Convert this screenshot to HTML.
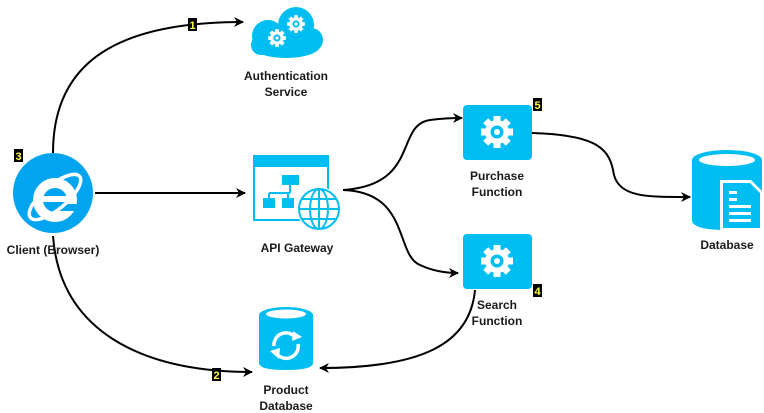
<!DOCTYPE html>
<html><head><meta charset="utf-8"><style>
html,body{margin:0;padding:0;background:#fff;}
svg{display:block;}
text{font-family:"Liberation Sans",Arial,sans-serif;font-weight:bold;font-size:12px;fill:#1a1a1a;}
.n{font-size:11px;fill:#ffff44;}
</style></head><body>
<svg width="764" height="413" viewBox="0 0 764 413" xmlns="http://www.w3.org/2000/svg">
<defs>
<marker id="a" markerWidth="10" markerHeight="10" refX="9" refY="5" orient="auto" markerUnits="userSpaceOnUse">
<path d="M0,0 L10,5 L0,10 L3,5 z" fill="#000"/>
</marker>
<g id="gear">
<circle r="12" fill="#fff"/>
<rect x="-3.5" y="-16" width="7" height="32" fill="#fff"/>
<rect x="-3.5" y="-16" width="7" height="32" fill="#fff" transform="rotate(45)"/>
<rect x="-3.5" y="-16" width="7" height="32" fill="#fff" transform="rotate(90)"/>
<rect x="-3.5" y="-16" width="7" height="32" fill="#fff" transform="rotate(135)"/>
<circle r="6.5" fill="#00bef2"/>
<circle r="3" fill="#fff"/>
</g>
</defs>
<g fill="none" stroke="#000" stroke-width="2">
<path d="M53,153 C53,60 120,22 243,22" marker-end="url(#a)"/>
<path d="M95,193 L245,193" marker-end="url(#a)"/>
<path d="M53,236 C60,330 140,372 252,372" marker-end="url(#a)"/>
<path d="M343,190 C420,185 395,125 430,120 C445,118 455,118 462,118" marker-end="url(#a)"/>
<path d="M343,190 C410,192 395,255 420,265 C435,272 448,273 458,273" marker-end="url(#a)"/>
<path d="M532,133 C600,135 610,150 614,175 C620,198 650,197 690,197" marker-end="url(#a)"/>
<path d="M475,290 C470,345 420,368 320,368" marker-end="url(#a)"/>
</g>
<!-- client IE -->
<circle cx="53" cy="193" r="40" fill="#00a4ef"/>
<circle cx="55" cy="200" r="17" fill="none" stroke="#fff" stroke-width="10"/>
<rect x="40" y="196" width="32" height="6" fill="#fff"/>
<rect x="58" y="204" width="20" height="7" fill="#00a4ef"/>
<ellipse cx="55" cy="197" rx="32" ry="12" fill="none" stroke="#fff" stroke-width="3.5" transform="rotate(-40 55 197)"/>
<rect x="14" y="149" width="9" height="13" fill="#000"/><text x="18.5" y="160" class="n" text-anchor="middle">3</text>
<text x="53" y="254" text-anchor="middle">Client (Browser)</text>
<!-- auth cloud -->
<g fill="#00bef2">
<circle cx="268" cy="36" r="16"/><circle cx="296" cy="25" r="18"/><circle cx="311" cy="40" r="12"/>
<circle cx="261" cy="45" r="10"/>
<ellipse cx="286" cy="46" rx="34" ry="12"/>
</g>
<g transform="translate(277,38) scale(0.55)"><use href="#gear"/></g>
<g transform="translate(296,24) scale(0.55)"><use href="#gear"/></g>
<text x="286" y="80" text-anchor="middle">Authentication</text>
<text x="286" y="96" text-anchor="middle">Service</text>
<rect x="188" y="18" width="9" height="13" fill="#000"/><text x="192.5" y="29" class="n" text-anchor="middle">1</text>
<!-- API gateway -->
<rect x="254" y="156" width="74" height="64" fill="#fff" stroke="#00bef2" stroke-width="2"/>
<rect x="254" y="156" width="74" height="11" fill="#00bef2"/>
<rect x="282" y="175" width="17" height="10" fill="#00bef2"/>
<rect x="263" y="198" width="12" height="10" fill="#00bef2"/>
<rect x="282" y="198" width="12" height="10" fill="#00bef2"/>
<path d="M290,185 V193 M269,193 H290 M269,193 V198 M288,193 V198" stroke="#00bef2" stroke-width="2" fill="none"/>
<circle cx="319" cy="209" r="22" fill="#fff"/>
<g fill="none" stroke="#00bef2" stroke-width="2">
<circle cx="319" cy="209" r="20"/><ellipse cx="319" cy="209" rx="9" ry="20"/>
<path d="M299,209 H339 M302,199 H336 M302,219 H336 M319,189 V229"/>
</g>
<text x="297" y="252" text-anchor="middle">API Gateway</text>
<!-- purchase -->
<rect x="463" y="105" width="69" height="55" rx="4" fill="#00bef2"/>
<g transform="translate(497,132)"><use href="#gear"/></g>
<rect x="533" y="98" width="9" height="13" fill="#000"/><text x="537.5" y="109" class="n" text-anchor="middle">5</text>
<text x="497" y="180" text-anchor="middle">Purchase</text>
<text x="497" y="196" text-anchor="middle">Function</text>
<!-- search -->
<rect x="463" y="234" width="69" height="55" rx="4" fill="#00bef2"/>
<g transform="translate(497,261)"><use href="#gear"/></g>
<rect x="533" y="284" width="9" height="13" fill="#000"/><text x="537.5" y="295" class="n" text-anchor="middle">4</text>
<text x="497" y="309" text-anchor="middle">Search</text>
<text x="497" y="325" text-anchor="middle">Function</text>
<!-- database -->
<path d="M692,160 V220 Q692,230 727,230 Q762,230 762,220 V160 Z" fill="#00bef2"/>
<ellipse cx="727" cy="160" rx="35" ry="10" fill="#00bef2"/>
<ellipse cx="727" cy="160" rx="28" ry="6" fill="#fff"/>
<path d="M720,180 H751 L763,192 V231 H720 Z" fill="#fff"/>
<path d="M723,183 H750 L760,193 V228 H723 Z" fill="#00bef2"/>
<g fill="#fff"><rect x="729" y="191" width="8" height="3"/><rect x="729" y="198" width="8" height="3"/><rect x="729" y="205" width="22" height="3"/><rect x="729" y="212" width="22" height="3"/><rect x="729" y="219" width="22" height="3"/></g>
<text x="727" y="249" text-anchor="middle">Database</text>
<!-- product db -->
<path d="M259,315 V363 Q259,370 286,370 Q313,370 313,363 V315 Z" fill="#00bef2"/>
<ellipse cx="286" cy="315" rx="27" ry="8" fill="#00bef2"/>
<ellipse cx="286" cy="314" rx="20" ry="4.5" fill="#fff"/>
<g fill="none" stroke="#fff" stroke-width="3.5">
<path d="M274,346 A12,12 0 0 1 295,337"/><path d="M298,344 A12,12 0 0 1 277,354"/>
</g>
<path d="M293,331 L302,337 L292,341 Z" fill="#fff"/>
<path d="M279,359 L270,351 L280,348 Z" fill="#fff"/>
<rect x="212" y="368" width="9" height="13" fill="#000"/><text x="216.5" y="379" class="n" text-anchor="middle">2</text>
<text x="286" y="394" text-anchor="middle">Product</text>
<text x="286" y="410" text-anchor="middle">Database</text>
</svg>
</body></html>
